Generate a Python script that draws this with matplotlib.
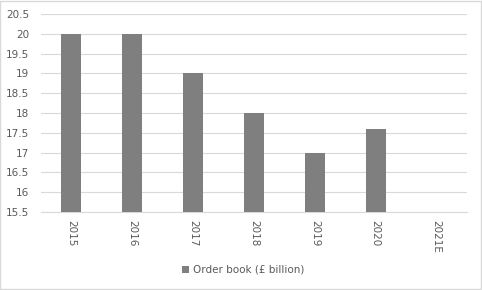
import matplotlib.pyplot as plt
import numpy as np

years = ["2015", "2016", "2017", "2018", "2019", "2020", "2021E"]
order_book = [20, 20, 19, 18, 17, 17.6, np.nan]
serie = "Order book (£ billion)"

gris = "#595959"

fig = plt.figure(figsize=(4.82, 2.9), dpi=100)
ax = fig.add_axes([41 / 482, 1 - 212 / 290, 426 / 482, 198 / 290])

x = np.arange(len(years))
ax.bar(x, order_book, width=0.33, color="#7f7f7f", label=serie, zorder=3)

ax.set_xlim(-0.5, len(years) - 0.5)
ax.set_ylim(15.5, 20.5)
ax.set_yticks(np.arange(15.5, 20.51, 0.5))
ax.set_yticklabels([f"{v:g}" for v in np.arange(15.5, 20.51, 0.5)])
ax.set_xticks(x)
ax.set_xticklabels(years, rotation=-90)
ax.tick_params(axis="both", length=0, labelsize=7.5, colors=gris)
ax.tick_params(axis="x", pad=6)
ax.tick_params(axis="y", pad=8.5)

ax.grid(axis="y", color="#d9d9d9", linewidth=0.8, zorder=0)
for s in ["top", "right", "left"]:
    ax.spines[s].set_visible(False)
ax.spines["bottom"].set_color("#d9d9d9")
ax.spines["bottom"].set_linewidth(0.8)

fig.legend(loc="center", bbox_to_anchor=(243 / 482, 1 - 270 / 290), frameon=False,
           fontsize=7.5, labelcolor=gris, handlelength=0.7, handleheight=0.7,
           handletextpad=0.4)

# marco del grafico
fig.patches.append(plt.Rectangle((0.001, 0.002), 0.997, 0.995, transform=fig.transFigure,
                                 fill=False, edgecolor="#d9d9d9", linewidth=1))

plt.savefig("out.png", dpi=100)
